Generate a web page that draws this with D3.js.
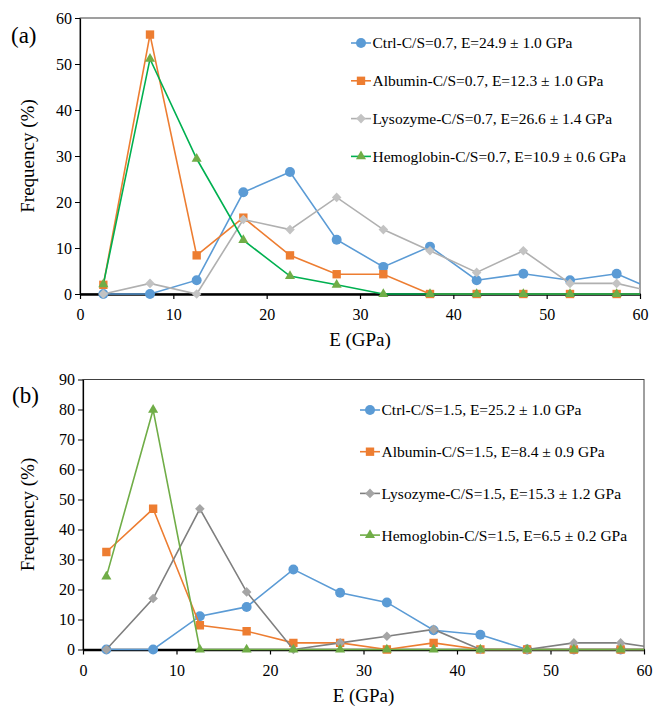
<!DOCTYPE html>
<html>
<head>
<meta charset="utf-8">
<script src="https://cdn.jsdelivr.net/npm/d3@7"></script>
<style>
  body { margin: 0; background: #fff; }
  svg { display: block; font-family: "Liberation Serif", "Times New Roman", serif; }
</style>
</head>
<body>
<div id="chart"></div>
<script>
// bins (GPa) - last bin is outside the axis and gets clipped
var eBins = [2.5, 7.5, 12.5, 17.5, 22.5, 27.5, 32.5, 37.5, 42.5, 47.5, 52.5, 57.5, 62.5];
var xTicks = [0, 10, 20, 30, 40, 50, 60];

// panel (a) C/S = 0.7
var ctrlA = [0, 0, 3.0, 22.1, 26.5, 11.8, 5.9, 10.3, 3.0, 4.4, 3.0, 4.4, 0];
var albA  = [2.0, 56.4, 8.4, 16.6, 8.4, 4.3, 4.3, 0, 0, 0, 0, 0, 0];
var lysA  = [0, 2.3, 0, 16.2, 14.0, 21.0, 14.0, 9.4, 4.7, 9.4, 2.3, 2.3, 0];
var hemA  = [2.1, 51.1, 29.4, 11.7, 3.9, 2.0, 0, 0, 0, 0, 0, 0, 0];
var yTicksA = [0, 10, 20, 30, 40, 50, 60];
var labelsA = ['Ctrl-C/S=0.7, E=24.9 \u00b1 1.0 GPa', 'Albumin-C/S=0.7, E=12.3 \u00b1 1.0 GPa',
               'Lysozyme-C/S=0.7, E=26.6 \u00b1 1.4 GPa', 'Hemoglobin-C/S=0.7, E=10.9 \u00b1 0.6 GPa'];

// panel (b) C/S = 1.5
var ctrlB = [0, 0, 11.1, 14.2, 26.7, 18.9, 15.7, 6.4, 4.9, 0, 0, 0, 0];
var albB  = [32.5, 46.9, 8.1, 6.1, 2.2, 2.2, 0, 2.2, 0, 0, 0, 0, 0];
var lysB  = [0, 17.0, 46.9, 19.2, 0, 2.2, 4.4, 6.7, 0, 0, 2.2, 2.2, 0];
var hemB  = [24.3, 79.9, 0, 0, 0, 0, 0, 0, 0, 0, 0, 0, 0];
var yTicksB = [0, 10, 20, 30, 40, 50, 60, 70, 80, 90];
var labelsB = ['Ctrl-C/S=1.5, E=25.2 \u00b1 1.0 GPa', 'Albumin-C/S=1.5, E=8.4 \u00b1 0.9 GPa',
               'Lysozyme-C/S=1.5, E=15.3 \u00b1 1.2 GPa', 'Hemoglobin-C/S=1.5, E=6.5 \u00b1 0.2 GPa'];

var width = 654, height = 706;

var svg = d3.select('#chart')
  .append('svg')
  .attr('width', width)
  .attr('height', height);

var panels = [
  {id: 'a', tag: '(a)', box: {l: 80, r: 640, t: 18, b: 294}, yMax: 60, yTicks: yTicksA,
   series: [ctrlA, albA, lysA, hemA], labels: labelsA,
   lineCols: ['#5b9bd5', '#ed7d31', '#b0b0b0', '#00b050'],
   markCols: ['#5b9bd5', '#ed7d31', '#c3c3c3', '#70ad47'],
   leg: {x: 361, y: 43, dy: 37.8}, tagPos: [11, 43]},
  {id: 'b', tag: '(b)', box: {l: 83, r: 644, t: 379.5, b: 649.5}, yMax: 90, yTicks: yTicksB,
   series: [ctrlB, albB, lysB, hemB], labels: labelsB,
   lineCols: ['#5b9bd5', '#ed7d31', '#7f7f7f', '#70ad47'],
   markCols: ['#5b9bd5', '#ed7d31', '#a5a5a5', '#70ad47'],
   leg: {x: 370, y: 410, dy: 41.7}, tagPos: [12, 403]}
];

// excel style diamond: a square turned 45 degrees
var symbolRhomb = {
  draw: function(ctx, size) {
    var r = Math.sqrt(size / 2);
    ctx.moveTo(0, -r); ctx.lineTo(r, 0); ctx.lineTo(0, r); ctx.lineTo(-r, 0); ctx.closePath();
  }
};
var shapes = [d3.symbolCircle, d3.symbolSquare, symbolRhomb, d3.symbolTriangle];
var sizes = [78, 70, 46, 44];

panels.forEach(function(p) {
  var x = d3.scaleLinear().domain([0, 60]).range([p.box.l, p.box.r]);
  var y = d3.scaleLinear().domain([0, p.yMax]).range([p.box.b, p.box.t]);

  var g = svg.append('g').attr('class', 'panel-' + p.id);

  // frame
  g.append('rect')
    .attr('x', p.box.l).attr('y', p.box.t)
    .attr('width', p.box.r - p.box.l).attr('height', p.box.b - p.box.t)
    .attr('fill', 'none').attr('stroke', '#404040').attr('stroke-width', 1);

  // y axis
  var ya = g.append('g')
    .attr('transform', 'translate(' + p.box.l + ',0)')
    .call(d3.axisLeft(y).tickValues(p.yTicks).tickSize(5).tickPadding(3).tickSizeOuter(0));
  ya.select('.domain').attr('stroke', '#000').attr('stroke-width', 1.2);
  ya.selectAll('.tick line').attr('stroke', '#000');
  ya.selectAll('text').attr('font-size', '16px').attr('fill', '#000')
    .style('font-family', '"Liberation Serif", "Times New Roman", serif');

  // x axis
  var xa = g.append('g')
    .attr('transform', 'translate(0,' + p.box.b + ')')
    .call(d3.axisBottom(x).tickValues(xTicks).tickSize(5).tickPadding(10).tickSizeOuter(0));
  xa.select('.domain').attr('stroke', '#000').attr('stroke-width', 2.5);
  xa.selectAll('.tick line').attr('stroke', '#000').attr('stroke-width', 1.2);
  xa.selectAll('text').attr('font-size', '16px').attr('fill', '#000')
    .style('font-family', '"Liberation Serif", "Times New Roman", serif');

  // clip for the series
  svg.append('clipPath').attr('id', 'clip-' + p.id)
    .append('rect')
    .attr('x', p.box.l).attr('y', p.box.t - 10)
    .attr('width', p.box.r - p.box.l).attr('height', p.box.b - p.box.t + 20);

  var plot = g.append('g').attr('clip-path', 'url(#clip-' + p.id + ')');

  var line = d3.line()
    .x(function(d, i) { return x(eBins[i]); })
    .y(function(d) { return y(d); });

  p.series.forEach(function(s, k) {
    plot.append('path')
      .datum(s)
      .attr('d', line)
      .attr('fill', 'none')
      .attr('stroke', p.lineCols[k])
      .attr('stroke-width', 1.6);

    plot.selectAll('.m' + k)
      .data(s)
      .enter()
      .append('path')
      .attr('class', 'm' + k)
      .attr('d', d3.symbol().type(shapes[k]).size(sizes[k]))
      .attr('transform', function(d, i) { return 'translate(' + x(eBins[i]) + ',' + y(d) + ')'; })
      .attr('fill', p.markCols[k]);
  });

  // legend
  var lg = g.append('g');
  p.labels.forEach(function(lab, k) {
    var ly = p.leg.y + k * p.leg.dy;
    lg.append('line')
      .attr('x1', p.leg.x - 10).attr('x2', p.leg.x + 10)
      .attr('y1', ly).attr('y2', ly)
      .attr('stroke', p.lineCols[k]).attr('stroke-width', 1.6);
    lg.append('path')
      .attr('d', d3.symbol().type(shapes[k]).size(sizes[k]))
      .attr('transform', 'translate(' + p.leg.x + ',' + ly + ')')
      .attr('fill', p.markCols[k]);
    lg.append('text')
      .attr('x', p.leg.x + 11.5).attr('y', ly)
      .attr('dy', '0.35em')
      .attr('font-size', '15.5px')
      .attr('fill', '#000')
      .text(lab);
  });

  // axis titles
  g.append('text')
    .attr('x', (p.box.l + p.box.r) / 2).attr('y', p.box.b + 52)
    .attr('text-anchor', 'middle')
    .attr('font-size', '19px')
    .text('E (GPa)');

  g.append('text')
    .attr('transform', 'translate(34,' + ((p.box.t + p.box.b) / 2) + ') rotate(-90)')
    .attr('text-anchor', 'middle')
    .attr('font-size', '19px')
    .text('Frequency (%)');

  g.append('text')
    .attr('x', p.tagPos[0]).attr('y', p.tagPos[1])
    .attr('font-size', '23px')
    .text(p.tag);
});
</script>
</body>
</html>
